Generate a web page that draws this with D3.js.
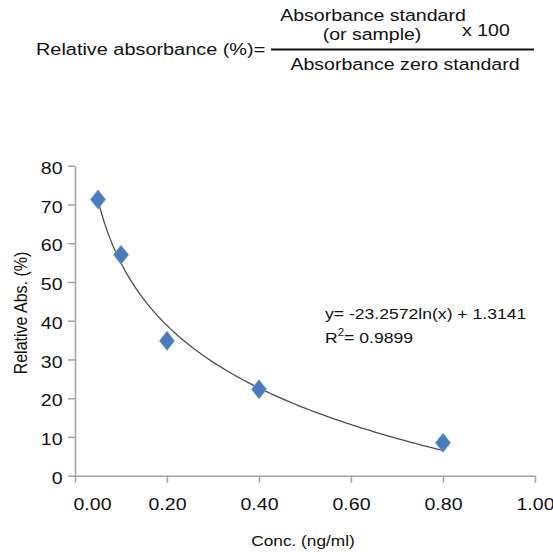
<!DOCTYPE html>
<html>
<head>
<meta charset="utf-8">
<title>Relative absorbance standard curve</title>
<script src="https://cdn.jsdelivr.net/npm/d3@7"></script>
<style>
  html, body { margin: 0; padding: 0; background: #fff; }
  svg text { font-family: "Liberation Sans", Arial, sans-serif; fill: #111; }
</style>
</head>
<body>
<div id="chart"></div>
<script>
// standard points
var conc = [0.05, 0.1, 0.2, 0.4, 0.8];
var relAbs = [71.3, 57.0, 34.8, 22.3, 8.5];

// tick labels
var xTicks = [0, 0.2, 0.4, 0.6, 0.8, 1.0];
var yTicks = [0, 10, 20, 30, 40, 50, 60, 70, 80];

// log fit shown on the chart: y = a ln(x) + b
var fitA = -23.2572;
var fitB = 1.3141;
var fitFrom = 0.05, fitTo = 0.8;

var W = 553, H = 552;
var SX = 1.15; // the original image is a bit wider than tall, stretch text to match

var svg = d3.select("#chart").append("svg")
  .attr("width", W)
  .attr("height", H);

svg.append("rect").attr("width", W).attr("height", H).attr("fill", "#fff");

// ---- formula header ----
function stretchedText(x, y, str, size, anchor) {
  return svg.append("text")
    .attr("transform", "translate(" + x + "," + y + ") scale(" + SX + ",1)")
    .attr("text-anchor", anchor || "start")
    .style("font-size", size + "px")
    .text(str);
}

stretchedText(36, 55, "Relative absorbance (%)=", 17.3);

stretchedText(373, 21, "Absorbance standard", 17, "middle");
stretchedText(372, 40, "(or sample)", 17, "middle");
stretchedText(462, 36, "x 100", 17);
stretchedText(405, 69.5, "Absorbance zero standard", 17, "middle");

svg.append("line")
  .attr("x1", 271).attr("x2", 534)
  .attr("y1", 49.5).attr("y2", 49.5)
  .attr("stroke", "#111")
  .attr("stroke-width", 2);

// ---- chart ----
var x = d3.scaleLinear().domain([0, 1]).range([75, 535]);
var y = d3.scaleLinear().domain([0, 80]).range([475.7, 165.7]);

var axisColor = "#a3a3a3";

var xAxis = svg.append("g")
  .attr("transform", "translate(0," + y(0) + ")")
  .call(d3.axisBottom(x).tickValues(xTicks).tickFormat(d3.format(".2f")).tickSize(7).tickSizeOuter(0));

var yAxis = svg.append("g")
  .attr("transform", "translate(" + x(0) + ",0)")
  .call(d3.axisLeft(y).tickValues(yTicks).tickSize(7).tickSizeOuter(0));

[xAxis, yAxis].forEach(function(g) {
  g.select(".domain").attr("stroke", axisColor).attr("stroke-width", 1.5);
  g.selectAll(".tick line").attr("stroke", axisColor).attr("stroke-width", 1.5);
  g.selectAll(".tick text")
    .attr("fill", "#111")
    .style("font-size", "17px")
    .attr("font-family", null);
});

xAxis.selectAll(".tick text")
  .attr("y", null).attr("dy", null)
  .attr("transform", "translate(0,34) scale(" + SX + ",1)");
// first label sits right of the axis corner
xAxis.select(".tick text")
  .attr("text-anchor", "start")
  .attr("transform", "translate(-2,34) scale(" + SX + ",1)");

yAxis.selectAll(".tick text")
  .attr("x", null).attr("dy", "0.36em")
  .attr("transform", "translate(-12.5,1.5) scale(" + SX + ",1)");

// trend line
var fitX = d3.range(0, 101).map(function(i) { return fitFrom + (fitTo - fitFrom) * i / 100; });
var line = d3.line()
  .x(function(d) { return x(d); })
  .y(function(d) { return y(fitA * Math.log(d) + fitB); });

svg.append("path")
  .datum(fitX)
  .attr("d", line)
  .attr("fill", "none")
  .attr("stroke", "#4d4d4d")
  .attr("stroke-width", 1.3);

// diamond markers
var diamond = "M0,-9.5L7.5,0L0,9.5L-7.5,0Z";
svg.append("g").selectAll("path")
  .data(conc)
  .enter()
  .append("path")
  .attr("d", diamond)
  .attr("transform", function(d, i) { return "translate(" + x(d) + "," + y(relAbs[i]) + ")"; })
  .attr("fill", "#4a7cbc")
  .attr("stroke", "#6b97cf")
  .attr("stroke-width", 0.8);

// equation text
stretchedText(325, 319, "y= -23.2572ln(x) + 1.3141", 15.3);
var r2 = stretchedText(325, 343, "R", 15.3);
r2.append("tspan").attr("dy", -7).style("font-size", "10px").text("2");
r2.append("tspan").attr("dy", 7).text("= 0.9899");

// axis titles
stretchedText(303, 546, "Conc. (ng/ml)", 15, "middle");

svg.append("text")
  .attr("transform", "translate(27,313) scale(" + SX + ",1) rotate(-90)")
  .attr("text-anchor", "middle")
  .style("font-size", "16px")
  .text("Relative Abs.  (%)");
</script>
</body>
</html>
